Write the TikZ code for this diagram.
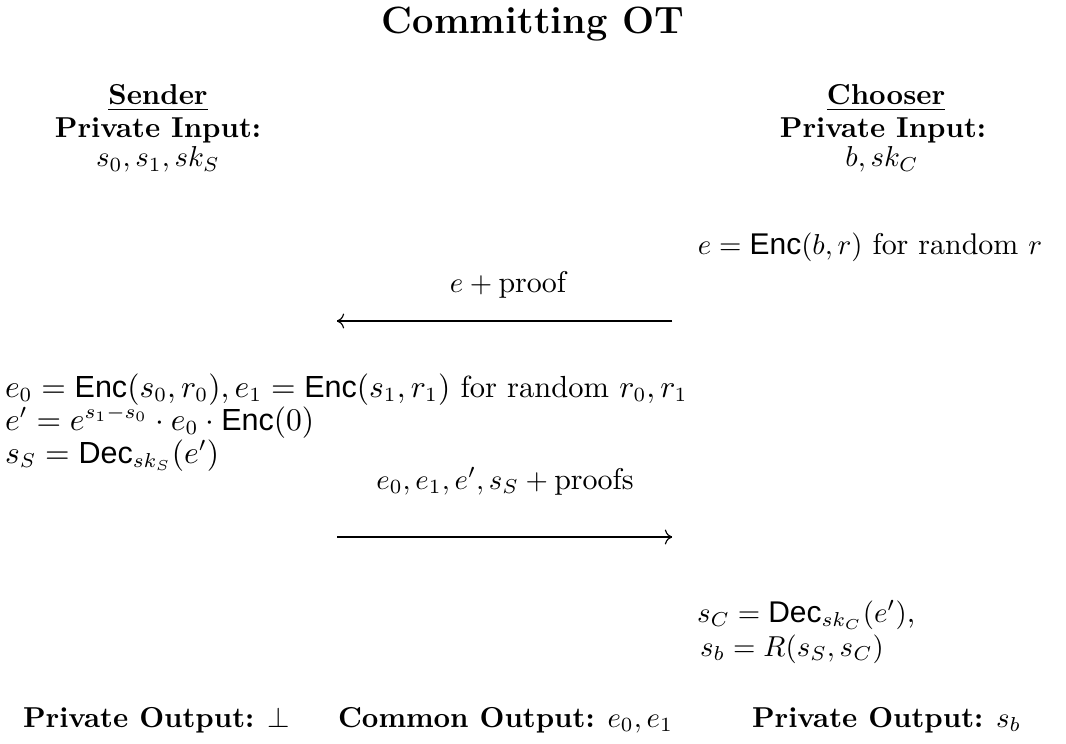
\documentclass[tikz,border=0pt]{standalone}
\usepackage{fontspec}
\setsansfont{Liberation Sans}
\usetikzlibrary{arrows.meta}
\begin{document}
\begin{tikzpicture}[x=0.3472pt,y=-0.3472pt,
  txt/.style={inner sep=0pt,outer sep=0pt,anchor=base},
  big/.style={font=\fontsize{10.4}{12.5}\selectfont},
  bigger/.style={font=\fontsize{10.6}{12.7}\selectfont},
  msg/.style={line width=0.4pt},
  dsh/.style={line width=0.9pt,dash pattern=on 2.6pt off 2.6pt}]
\useasboundingbox (0,0) rectangle (1066,744);
\node[txt] (title) at (533,34) {\fontsize{13.2}{15}\selectfont\bfseries Committing OT};
\node[txt] (sender) at (158,105) {\underline{\textbf{Sender}}};
\node[txt] (spi) at (158,138) {\textbf{Private Input:}};
\node[txt] (sin) at (158,167) {$s_0, s_1, sk_S$};
\node[txt] (chooser) at (886,105) {\underline{\textbf{Chooser}}};
\node[txt] (cpi) at (883,138) {\textbf{Private Input:}};
\node[txt] (cin) at (882,167) {$b, sk_C$};
\node[txt,big] (cenc) at (870,254) {$e = \textsf{Enc}(b,r)$ for random $r$};
\node[txt,big] (m1) at (508,292) {$e + \mathrm{proof}$};
\coordinate (a1r) at (672,321);
\coordinate (a1l) at (337,321);
\draw[msg,-{Computer Modern Rightarrow}] (a1r) -- (a1l);
\draw[dsh] (a1r) -- (a1l);
\node[txt,bigger,anchor=base west] (l1) at (5,397) {$e_0 = \textsf{Enc}(s_0,r_0), e_1 = \textsf{Enc}(s_1,r_1)$ for random $r_0, r_1$};
\node[txt,bigger,anchor=base west] (l2) at (5,430) {$e' = e^{s_1 - s_0}\cdot e_0 \cdot \textsf{Enc}(0)$};
\node[txt,bigger,anchor=base west] (l3) at (5,463) {$s_S = \textsf{Dec}_{sk_S}(e')$};
\node[txt,big] (m2) at (505,489) {$e_0, e_1, e', s_S + \mathrm{proofs}$};
\coordinate (a2l) at (337,537);
\coordinate (a2r) at (672,537);
\draw[msg,-{Computer Modern Rightarrow}] (a2l) -- (a2r);
\draw[dsh] (a2l) -- (a2r);
\node[txt,big,anchor=base west] (r1) at (697,622) {$s_C = \textsf{Dec}_{sk_C}(e')$,};
\node[txt,big,anchor=base west] (r2) at (700,656) {$s_b = R(s_S, s_C)$};
\node[txt,anchor=base west] (o1) at (23,727) {\textbf{Private Output:} $\bot$};
\node[txt,anchor=base west] (o2) at (338,727) {\textbf{Common Output:} $e_0, e_1$};
\node[txt,anchor=base west] (o3) at (752,727) {\textbf{Private Output:} $s_b$};
\end{tikzpicture}
\end{document}
